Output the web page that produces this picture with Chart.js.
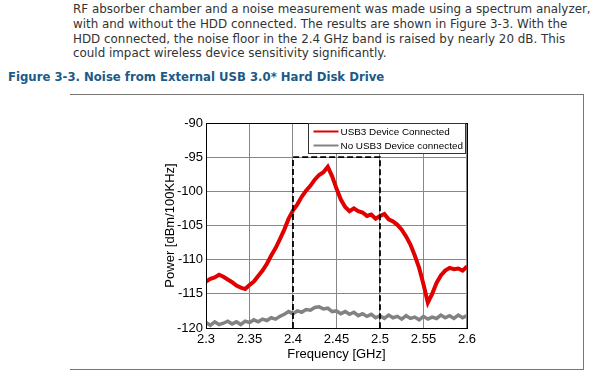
<!DOCTYPE html>
<html>
<head>
<meta charset="utf-8">
<script src="https://cdn.jsdelivr.net/npm/chart.js@4"></script>
<style>
  body { margin: 0; width: 600px; height: 380px; background: #fff; position: relative; overflow: hidden; }
  #para { position: absolute; left: 73px; top: 2px; font: 11.9px "DejaVu Sans", Verdana, sans-serif; line-height: 14.8px; color: #333; white-space: nowrap; }
  #title { position: absolute; left: 8px; top: 70px; font: bold 11.7px "DejaVu Sans", Verdana, sans-serif; color: #1c5a87; white-space: nowrap; }
  #frame { position: absolute; left: 70px; top: 94px; width: 513px; height: 274px; border-top: 1px solid #777; border-right: 1px solid #777; border-bottom: 1px solid #777; }
  #wrap { position: absolute; left: 163px; top: 110px; width: 317px; height: 255px; }
</style>
</head>
<body>
<div id="para">RF absorber chamber and a noise measurement was made using a spectrum analyzer,<br>with and without the HDD connected. The results are shown in Figure 3-3. With the<br>HDD connected, the noise floor in the 2.4 GHz band is raised by nearly 20 dB. This<br>could impact wireless device sensitivity significantly.</div>
<div id="title">Figure 3-3. Noise from External USB 3.0* Hard Disk Drive</div>
<div id="frame"></div>
<div id="wrap"><canvas id="noise"></canvas></div>
<script>
// frequency grid, GHz (step 0.005)
const freqs = [];
for (let i = 0; i <= 60; i++) freqs.push(+(2.3 + i * 0.005).toFixed(3));

// dBm/100KHz
const withUsb3 = [
  -113.2, -112.8, -112.6, -112.2, -112.5, -112.9, -113.3, -113.8, -114.1, -114.3,
  -113.7, -113.2, -112.4, -111.6, -110.6, -109.4, -108.3, -107.0, -105.6, -104.0,
  -102.8, -101.9, -100.8, -99.9, -99.2, -98.3, -97.6, -97.2, -96.4, -97.8,
  -99.6, -101.2, -102.3, -102.9, -102.5, -102.9, -103.1, -103.6, -103.4, -104.0,
  -103.6, -103.3, -104.1, -104.4, -104.9, -105.6, -106.6, -107.8, -109.4, -111.2,
  -113.6, -116.3, -115.0, -113.4, -112.3, -111.6, -111.2, -111.4, -111.3, -111.6,
  -111.0
];
const withoutUsb3 = [
  -119.2, -119.6, -119.1, -119.5, -119.3, -119.0, -119.4, -119.1, -119.5, -119.0,
  -119.2, -118.8, -119.1, -118.7, -118.9, -118.5, -118.7, -118.3, -118.0, -117.6,
  -117.9, -117.5, -117.7, -117.3, -117.4, -117.0, -116.9, -117.2, -117.1, -117.6,
  -117.5, -117.9, -117.6, -118.0, -117.7, -118.2, -117.9, -118.3, -118.0, -118.5,
  -118.2, -118.6, -118.1, -118.5, -118.3, -118.7, -118.2, -118.6, -118.4, -118.8,
  -118.3, -118.7, -118.4, -118.6, -118.1, -118.5, -118.2, -118.6, -118.1, -118.5,
  -118.2
];

// 2.4 GHz band marker (dashed box)
const bandX = [2.4, 2.4, 2.5, 2.5];
const bandY = [-120, -95, -95, -120];

const xTicks = [2.3, 2.35, 2.4, 2.45, 2.5, 2.55, 2.6];
const yTicks = [-120, -115, -110, -105, -100, -95, -90];

const seriesNames = ["USB3 Device Connected", "No USB3 Device connected"];
const RED = "rgb(225,0,0)";
const GRAY = "rgb(130,130,130)";
const FONT = '"Liberation Sans", Arial, sans-serif';

function pts(xs, ys) { return xs.map((x, i) => ({ x: x, y: ys[i] })); }

// black box around plot + matlab-ish legend
const boxPlugin = {
  id: 'boxPlugin',
  afterDatasetsDraw(chart) {
    const ctx = chart.ctx, a = chart.chartArea;
    ctx.save();
    ctx.strokeStyle = '#000';
    ctx.lineWidth = 1;
    ctx.strokeRect(Math.round(a.left) + 0.5, Math.round(a.top) + 0.5, Math.round(a.right - a.left), Math.round(a.bottom - a.top));

    // legend
    const w = 157, h = 30;
    const lx = Math.round(a.right) - w - 1.5, ly = Math.round(a.top) + 0.5;
    ctx.fillStyle = '#fff';
    ctx.fillRect(lx, ly, w, h);
    ctx.strokeStyle = '#333';
    ctx.strokeRect(lx, ly, w, h);
    ctx.font = '9.9px ' + FONT;
    ctx.textBaseline = 'middle';
    const cols = [RED, GRAY];
    seriesNames.forEach((n, i) => {
      const yy = ly + 8 + i * 14;
      ctx.strokeStyle = cols[i];
      ctx.lineWidth = 2;
      ctx.beginPath();
      ctx.moveTo(lx + 5, yy);
      ctx.lineTo(lx + 30, yy);
      ctx.stroke();
      ctx.fillStyle = '#000';
      ctx.fillText(n, lx + 32, yy + 0.5);
    });
    ctx.restore();
  }
};

new Chart(document.getElementById('noise'), {
  type: 'line',
  data: {
    datasets: [
      { label: 'band', data: pts(bandX, bandY), borderColor: '#000', borderWidth: 1.8, borderDash: [6, 3], pointRadius: 0, tension: 0, order: 0 },
      { label: seriesNames[0], data: pts(freqs, withUsb3), borderColor: RED, borderWidth: 4, pointRadius: 0, tension: 0, order: 1 },
      { label: seriesNames[1], data: pts(freqs, withoutUsb3), borderColor: GRAY, borderWidth: 3.5, pointRadius: 0, tension: 0, order: 2 }
    ]
  },
  options: {
    responsive: true,
    maintainAspectRatio: false,
    animation: false,
    layout: { padding: { top: 13, right: 13, left: 0, bottom: 3 } },
    plugins: { legend: { display: false }, tooltip: { enabled: false } },
    scales: {
      x: {
        type: 'linear', min: 2.3, max: 2.6,
        afterBuildTicks: s => { s.ticks = xTicks.map(v => ({ value: v })); },
        afterFit: s => { s.height = 34; },
        ticks: { color: '#000', padding: 4, font: { family: FONT, size: 13 }, callback: v => String(+v.toFixed(2)) },
        grid: { color: '#888', borderDash: [1, 2], drawTicks: false },
        border: { display: false },
        title: { display: true, text: 'Frequency [GHz]', color: '#000', padding: 0, font: { family: FONT, size: 13 } }
      },
      y: {
        min: -120, max: -90,
        afterBuildTicks: s => { s.ticks = yTicks.map(v => ({ value: v })); },
        afterFit: s => { s.width = 43; },
        ticks: { color: '#000', padding: 3, font: { family: FONT, size: 13 } },
        grid: { color: '#888', borderDash: [1, 2], drawTicks: false },
        border: { display: false },
        title: { display: true, text: 'Power [dBm/100KHz]', color: '#000', padding: 0, font: { family: FONT, size: 13 } }
      }
    }
  },
  plugins: [boxPlugin]
});
</script>
</body>
</html>
